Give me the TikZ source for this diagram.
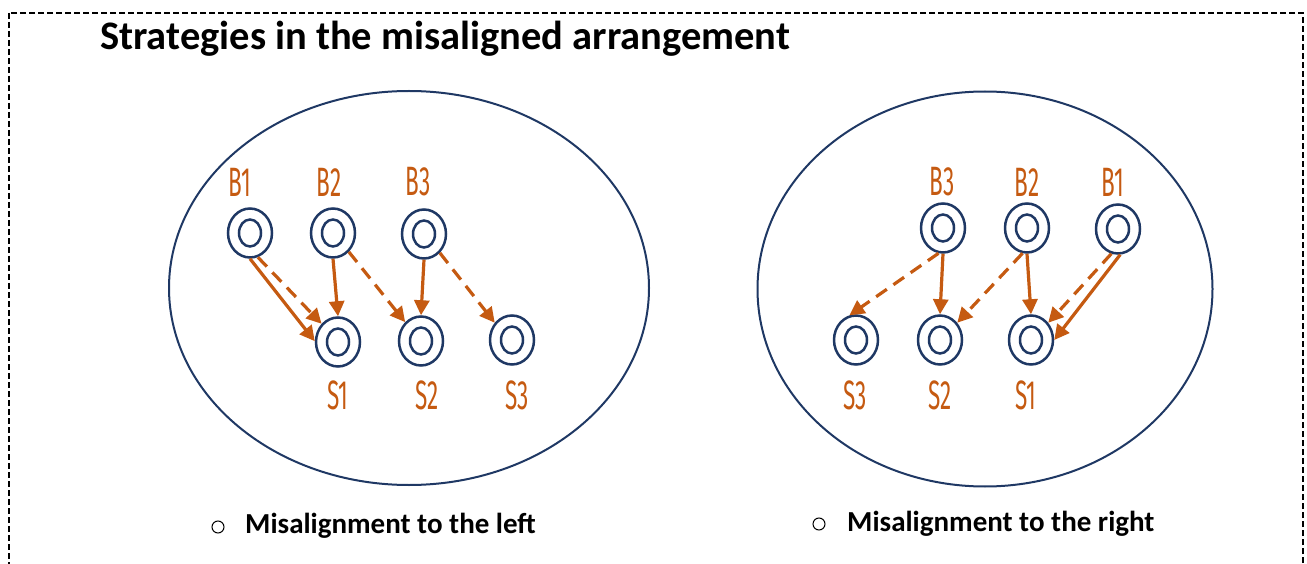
\documentclass[tikz,border=0pt]{standalone}
\usepackage{fontspec}
\setmainfont{Carlito}
\newfontfamily\labelfont{Fira Sans}
\usetikzlibrary{shapes.geometric,arrows.meta}
\definecolor{navy}{HTML}{1F3864}
\definecolor{rust}{HTML}{C55A11}

\begin{document}
\begin{tikzpicture}[x=1pt,y=-1pt,
  ring/.style={ellipse, draw=navy, line width=2.5pt, minimum width=44pt,
    minimum height=49pt, inner sep=0pt,
    path picture={\draw[navy, line width=2.5pt]
      (path picture bounding box.center) ellipse [x radius=11pt, y radius=13.5pt];}},
  panel/.style={ellipse, draw=navy, line width=2pt, inner sep=0pt},
  flow/.style={rust, line width=3.2pt, -{Triangle[length=15pt,width=15pt]}},
  flowd/.style={flow, dash pattern=on 13pt off 8pt},
  tag/.style={text=rust, inner sep=0pt, font=\labelfont\fontsize{41}{41}\selectfont},
  caption/.style={anchor=base west, inner sep=0pt, font=\bfseries\fontsize{29}{29}\selectfont},
  bullet/.style={circle, draw, line width=1pt, minimum size=12pt, inner sep=0pt},
]
\useasboundingbox (0,0) rectangle (1307,564);

% dashed frame (its lower edge runs below the page)
\draw[black, line width=1.3pt, dash pattern=on 6pt off 3pt] (9,13) rectangle (1303,640);

\node[anchor=base west, inner sep=0pt, font=\bfseries\fontsize{40.5}{40.5}\selectfont]
  (title) at (100,50) {Strategies in the misaligned arrangement};

% ---------- left panel ----------
\node[panel, minimum width=480pt, minimum height=394pt] (panelL) at (409,288) {};

\node[ring] (lB1) at (250,233) {};
\node[ring] (lB2) at (333,233) {};
\node[ring] (lB3) at (424,234) {};
\node[ring] (lS1) at (338,342) {};
\node[ring] (lS2) at (421,341) {};
\node[ring] (lS3) at (512,340) {};

\node[tag] (tlB1) at (240,182) {\scalebox{0.55}[1]{B1}};
\node[tag] (tlB2) at (329,182) {\scalebox{0.55}[1]{B2}};
\node[tag] (tlB3) at (418,182) {\scalebox{0.55}[1]{B3}};
\node[tag] (tlS1) at (338,395) {\scalebox{0.55}[1]{S1}};
\node[tag] (tlS2) at (427,395) {\scalebox{0.55}[1]{S2}};
\node[tag] (tlS3) at (517,395) {\scalebox{0.55}[1]{S3}};

\draw[flow]  (lB1.-90) -- (lS1.178);
\draw[flowd] (lB1.-72) -- (lS1.132);
\draw[flow]  (lB2.-90) -- (lS1.90);
\draw[flowd] (lB2.-50) -- (lS2.130);
\draw[flow]  (lB3.-90) -- (lS2.90);
\draw[flowd] (lB3.-50) -- (lS3.135);

\node[bullet] (bulL) at (218,527) {};
\node[caption] (capL) at (245,533) {Misalignment to the left};

% ---------- right panel ----------
\node[panel, minimum width=455pt, minimum height=395pt] (panelR) at (985,289) {};

\node[ring] (rB3) at (943,228) {};
\node[ring] (rB2) at (1027,228) {};
\node[ring] (rB1) at (1118,229) {};
\node[ring] (rS3) at (856,340) {};
\node[ring] (rS2) at (940,340) {};
\node[ring] (rS1) at (1031,340) {};

\node[tag] (trB3) at (942,182) {\scalebox{0.55}[1]{B3}};
\node[tag] (trB2) at (1027,182) {\scalebox{0.55}[1]{B2}};
\node[tag] (trB1) at (1113,182) {\scalebox{0.55}[1]{B1}};
\node[tag] (trS3) at (855,395) {\scalebox{0.55}[1]{S3}};
\node[tag] (trS2) at (940,395) {\scalebox{0.55}[1]{S2}};
\node[tag] (trS1) at (1026,395) {\scalebox{0.55}[1]{S1}};

\draw[flowd] (rB3.-100) -- (rS3.105);
\draw[flow]  (rB3.-90) -- (rS2.90);
\draw[flowd] (rB2.-100) -- (rS2.45);
\draw[flow]  (rB2.-90) -- (rS1.90);
\draw[flowd] (rB1.-105) -- (rS1.45);
\draw[flow]  (rB1.-85) -- (rS1.0);

\node[bullet] (bulR) at (819,524) {};
\node[caption] (capR) at (847,531) {Misalignment to the right};
\end{tikzpicture}
\end{document}
